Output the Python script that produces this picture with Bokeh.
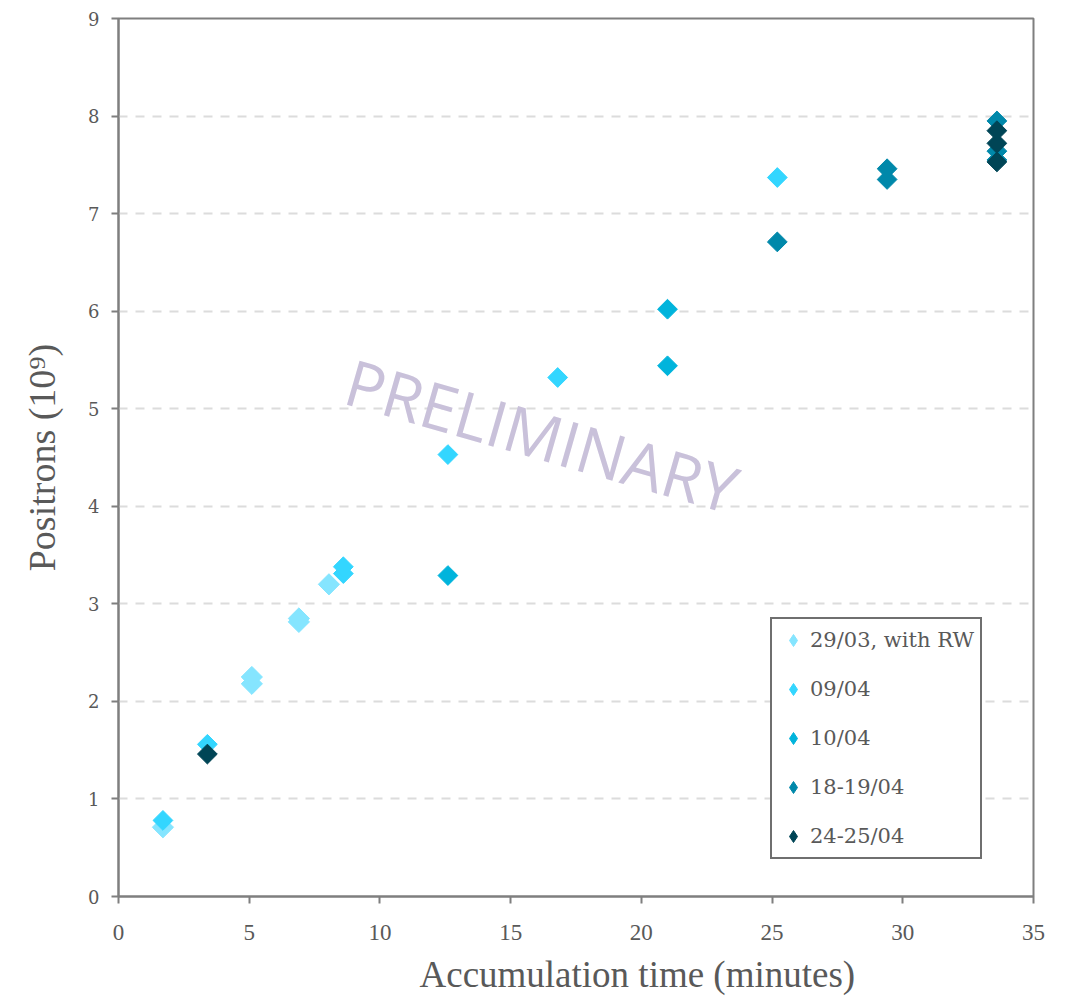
from math import radians, nan
from bokeh.plotting import figure
from bokeh.models import Range1d, Legend, LegendItem, Title
from bokeh.core.properties import value
from bokeh.embed import file_html
from bokeh.resources import INLINE

# ---- data ----
series_names = ["29/03, with RW", "09/04", "10/04", "18-19/04", "24-25/04"]
series_colors = ["#85E5FF", "#33D6FF", "#00B4DC", "#0088AA", "#004556"]

x_2903 = [1.7, 5.1, 5.1, 6.9, 6.9, 8.05]
y_2903 = [0.71, 2.18, 2.25, 2.815, 2.85, 3.20]

x_0904 = [1.7, 3.4, 8.6, 8.6, 12.6, 16.8, 25.2]
y_0904 = [0.78, 1.56, 3.31, 3.38, 4.53, 5.32, 7.37]

x_1004 = [12.6, 21.0, 21.0]
y_1004 = [3.29, 5.44, 6.02]

x_1819 = [25.2, 29.4, 29.4, 33.6, 33.6, 33.6]
y_1819 = [6.71, 7.35, 7.46, 7.55, 7.64, 7.95]

x_2425 = [3.4, 33.6, 33.6, 33.6]
y_2425 = [1.46, 7.53, 7.72, 7.85]

x_ticks = [0, 5, 10, 15, 20, 25, 30, 35]
y_ticks = [0, 1, 2, 3, 4, 5, 6, 7, 8, 9]

x_title = "Accumulation time (minutes)"
y_title = "Positrons (10\u2079)"
watermark = "PRELIMINARY"

AX = "#7f7f7f"
TXT = "#595959"
SERIF = "Liberation Serif"
WIDE_SERIF = "DejaVu Serif"

p = figure(width=1076, height=1003, output_backend="svg", toolbar_location=None,
           x_range=Range1d(0, 35), y_range=Range1d(0, 9),
           min_border_left=118, min_border_right=43, min_border_top=18,
           min_border_bottom=107)

p.outline_line_color = AX
p.outline_line_width = 2
p.background_fill_color = "white"
p.border_fill_color = "white"

p.xgrid.grid_line_color = None
p.ygrid.grid_line_color = "#dcdcdc"
p.ygrid.grid_line_width = 2
p.ygrid.grid_line_dash = "9 8"

for ax in (p.xaxis[0], p.yaxis[0]):
    ax.axis_line_color = AX
    ax.axis_line_width = 2
    ax.major_tick_line_color = AX
    ax.major_tick_line_width = 2
    ax.minor_tick_line_color = None
    ax.major_tick_in = 0
    ax.major_tick_out = 7
    ax.major_label_text_color = TXT
    ax.axis_label_text_font = SERIF
    ax.axis_label_text_color = TXT
    ax.axis_label_text_font_style = "normal"

p.xaxis.ticker = x_ticks
p.yaxis.ticker = y_ticks
p.xaxis.major_label_text_font = SERIF
p.xaxis.major_label_text_font_size = "23px"
p.yaxis.major_label_text_font = WIDE_SERIF
p.yaxis.major_label_text_font_size = "18px"
p.xaxis.major_label_standoff = 21
p.yaxis.major_label_standoff = 12
p.yaxis.axis_label = y_title
p.yaxis.axis_label_text_font_size = "38px"
p.yaxis.axis_label_standoff = 22

# x-axis title, placed right of centre as in the reference
p.add_layout(Title(text=x_title, align="left", offset=301, standoff=18,
                   text_font=SERIF, text_font_size="37px", text_color=TXT,
                   text_font_style="normal"), "below")

# watermark
p.text(x=[16.2], y=[4.73], text=[watermark], angle=radians(-16),
       text_font=value("Open Sans"), text_font_size="64px",
       text_color="#c9c1da", text_align="center", text_baseline="middle")

xs = [x_2903, x_0904, x_1004, x_1819, x_2425]
ys = [y_2903, y_0904, y_1004, y_1819, y_2425]
sizes = [15, 14, 14, 14, 14]

items = []
for name, col, xv, yv, sz in zip(series_names, series_colors, xs, ys, sizes):
    p.scatter(xv, yv, marker="square", angle=radians(45), size=sz,
              fill_color=col, line_color=col, line_width=1)
    # legend swatch: diamond marker renderer holding no visible point
    sw = p.scatter(x=[nan], y=[nan], marker="diamond", fill_color=col, line_color=col)
    items.append(LegendItem(label=name, renderers=[sw]))

legend = Legend(items=items, location=(652, 37))
legend.label_text_font = WIDE_SERIF
legend.label_text_font_size = "21px"
legend.label_text_color = TXT
legend.border_line_color = "#6f6f6f"
legend.border_line_width = 2
legend.border_line_alpha = 1
legend.background_fill_alpha = 1
legend.padding = 6
legend.spacing = 19
legend.label_height = 30
legend.glyph_height = 30
legend.glyph_width = 30
legend.label_standoff = 2
legend.margin = 0
p.add_layout(legend, "center")

open("out.html", "w").write(file_html(p, INLINE))
